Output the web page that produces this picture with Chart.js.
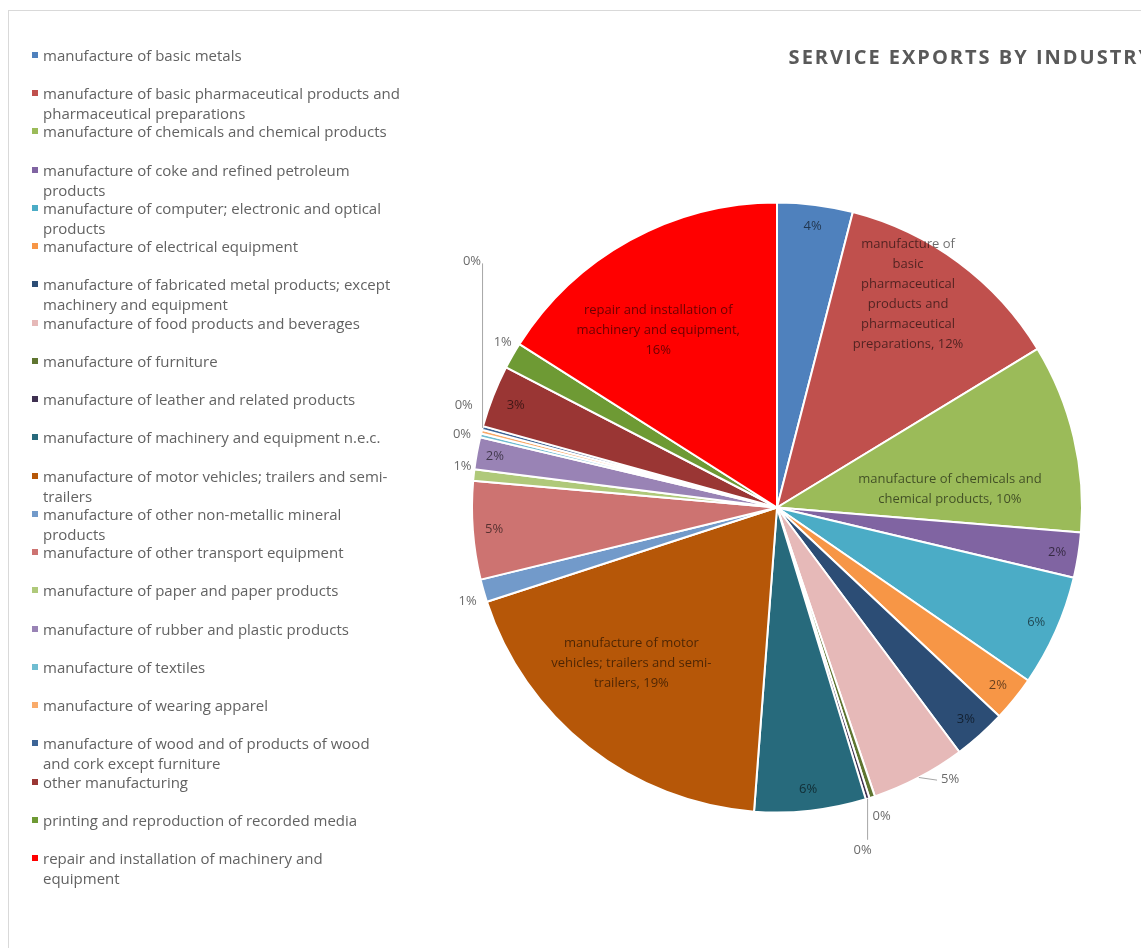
<!DOCTYPE html>
<html>
<head>
<meta charset="utf-8">
<title>Service exports by industry</title>
<script src="https://cdn.jsdelivr.net/npm/chart.js@4.4.1/dist/chart.umd.min.js"></script>
<style>
  html, body { margin: 0; padding: 0; background: #fff; }
  body { width: 1141px; height: 948px; overflow: hidden; position: relative; font-family: "Open Sans", sans-serif; }
  #frame { position: absolute; left: 8px; top: 10px; width: 1300px; height: 1000px; border-left: 1px solid #d9d9d9; border-top: 1px solid #d9d9d9; }
  #chartBox { position: absolute; left: 0; top: 0; width: 1160px; height: 948px; }
  #legend { position: absolute; left: 0; top: 0; margin: 0; padding: 0; list-style: none; z-index: 2; }
  #legend li { position: absolute; left: 43px; font-size: 15px; line-height: 20px; color: #626262; white-space: pre; }
  #legend li span { position: absolute; left: -11px; top: 7px; width: 6px; height: 6px; }
</style>
</head>
<body>
<div id="frame"></div>
<ul id="legend"></ul>
<div id="chartBox"><canvas id="pie"></canvas></div>
<script>
// industries, in drawing order (clockwise from 12 o'clock); "\n" marks where the legend wraps
const industries = [
  'manufacture of basic metals',
  'manufacture of basic pharmaceutical products and\npharmaceutical preparations',
  'manufacture of chemicals and chemical products',
  'manufacture of coke and refined petroleum\nproducts',
  'manufacture of computer; electronic and optical\nproducts',
  'manufacture of electrical equipment',
  'manufacture of fabricated metal products; except\nmachinery and equipment',
  'manufacture of food products and beverages',
  'manufacture of furniture',
  'manufacture of leather and related products',
  'manufacture of machinery and equipment n.e.c.',
  'manufacture of motor vehicles; trailers and semi-\ntrailers',
  'manufacture of other non-metallic mineral\nproducts',
  'manufacture of other transport equipment',
  'manufacture of paper and paper products',
  'manufacture of rubber and plastic products',
  'manufacture of textiles',
  'manufacture of wearing apparel',
  'manufacture of wood and of products of wood\nand cork except furniture',
  'other manufacturing',
  'printing and reproduction of recorded media',
  'repair and installation of machinery and\nequipment'
];

// share of service exports, %
const shares = [4.0, 12.3, 10.0, 2.4, 5.9, 2.4, 2.8, 5.0, 0.3, 0.2, 5.9,
                18.8, 1.2, 5.2, 0.6, 1.7, 0.2, 0.2, 0.2, 3.3, 1.4, 16.0];

const sliceColors = [
  '#4f81bd', '#c0504d', '#9bbb59', '#8064a2', '#4bacc6', '#f79646',
  '#2c4d75', '#e6b9b8', '#5f7530', '#3f3151', '#276a7c', '#b65708',
  '#729aca', '#cd7371', '#afc97a', '#9983b5', '#6fbdd1', '#f9ab6b',
  '#3c6496', '#9a3634', '#6e9a34', '#ff0000'
];

// where each data label sits: r = fraction of the radius, a = angle in degrees
// clockwise from the top (slice middle when left out), {p} = the percentage
const labelSpots = [
  { r: 0.93 },
  { r: 0.82, a: 31.6, lines: ['manufacture of', 'basic', 'pharmaceutical', 'products and', 'pharmaceutical', 'preparations, {p}'] },
  { r: 0.57, a: 84, lines: ['manufacture of chemicals and', 'chemical products, {p}'] },
  { r: 0.93 },
  { r: 0.93 },
  { r: 0.93 },
  { r: 0.93 },
  { r: 1.056, a: 147.5, leader: 'side' },
  { r: 1.07, a: 161.3 },
  { r: 1.16, a: 166, leader: 'down' },
  { r: 0.93 },
  { r: 0.70, a: 223, lines: ['manufacture of motor', 'vehicles; trailers and semi-', 'trailers, {p}'] },
  { r: 1.06, a: 253.1 },
  { r: 0.93 },
  { r: 1.04, a: 277.5 },
  { r: 0.94 },
  { r: 1.06, a: 283 },
  { r: 1.08, a: 288 },
  { r: 1.285, a: 308.9, leader: 'up' },
  { r: 0.92 },
  { r: 1.05, a: 301.1 },
  { r: 0.70, a: 326.2, lines: ['repair and installation of', 'machinery and equipment,', '{p}'] }
];

// legend on the left, one row every 38.24px
const legendEl = document.getElementById('legend');
industries.forEach((name, i) => {
  const li = document.createElement('li');
  li.style.top = (45 + i * 38.24) + 'px';
  const mark = document.createElement('span');
  mark.style.background = sliceColors[i];
  li.appendChild(mark);
  li.appendChild(document.createTextNode(name));
  legendEl.appendChild(li);
});

// data labels drawn straight onto the arcs
const sliceLabels = {
  id: 'sliceLabels',
  afterDatasetsDraw(chart) {
    const ctx = chart.ctx;
    const arcs = chart.getDatasetMeta(0).data;
    const total = shares.reduce((s, v) => s + v, 0);
    ctx.save();
    ctx.font = '13px "Open Sans", sans-serif';
    ctx.textAlign = 'center';
    ctx.textBaseline = 'middle';
    arcs.forEach((arc, i) => {
      const p = arc.getProps(['x', 'y', 'startAngle', 'endAngle', 'outerRadius'], true);
      const spot = labelSpots[i];
      const pct = Math.round(shares[i] / total * 100) + '%';
      const mid = (p.startAngle + p.endAngle) / 2;
      const ang = spot.a == null ? mid : (spot.a - 90) * Math.PI / 180;
      const lx = p.x + Math.cos(ang) * p.outerRadius * spot.r;
      const ly = p.y + Math.sin(ang) * p.outerRadius * spot.r;

      if (spot.leader) {
        const ex = p.x + Math.cos(mid) * p.outerRadius;
        const ey = p.y + Math.sin(mid) * p.outerRadius;
        ctx.strokeStyle = '#a6a6a6';
        ctx.lineWidth = 1;
        ctx.beginPath();
        ctx.moveTo(ex, ey);
        if (spot.leader === 'down') ctx.lineTo(ex, ly - 11);
        else if (spot.leader === 'up') ctx.lineTo(ex, ly + 2);
        else ctx.lineTo(lx - 13, ly + 1);
        ctx.stroke();
      }

      const lines = (spot.lines || ['{p}']).map(t => t.replace('{p}', pct));
      ctx.fillStyle = spot.r < 1 ? 'rgba(0, 0, 0, 0.58)' : '#6b6b6b';
      const y0 = ly - (lines.length - 1) * 10;
      lines.forEach((t, k) => ctx.fillText(t, lx, y0 + k * 20));
    });
    ctx.restore();
  }
};

// spaced-out title lettering
const titleSpacing = {
  id: 'titleSpacing',
  beforeDraw(chart) { chart.ctx.letterSpacing = '2px'; },
  beforeDatasetsDraw(chart) { chart.ctx.letterSpacing = '0px'; }
};

new Chart(document.getElementById('pie'), {
  type: 'pie',
  data: {
    labels: industries.map(s => s.replace('\n', ' ')),
    datasets: [{
      data: shares,
      backgroundColor: sliceColors,
      borderColor: '#ffffff',
      borderWidth: 2,
      hoverOffset: 0
    }]
  },
  options: {
    responsive: true,
    maintainAspectRatio: false,
    animation: false,
    radius: 305,
    layout: { padding: { left: 401, right: 7, top: 0, bottom: 13 } },
    plugins: {
      legend: { display: false },
      tooltip: { enabled: false },
      title: {
        display: true,
        text: 'SERVICE EXPORTS BY INDUSTRY',
        align: 'end',
        color: '#595959',
        font: { family: '"Open Sans", sans-serif', size: 20, weight: 'bold' },
        padding: { top: 46, bottom: 10 }
      }
    }
  },
  plugins: [sliceLabels, titleSpacing]
});
</script>
</body>
</html>
